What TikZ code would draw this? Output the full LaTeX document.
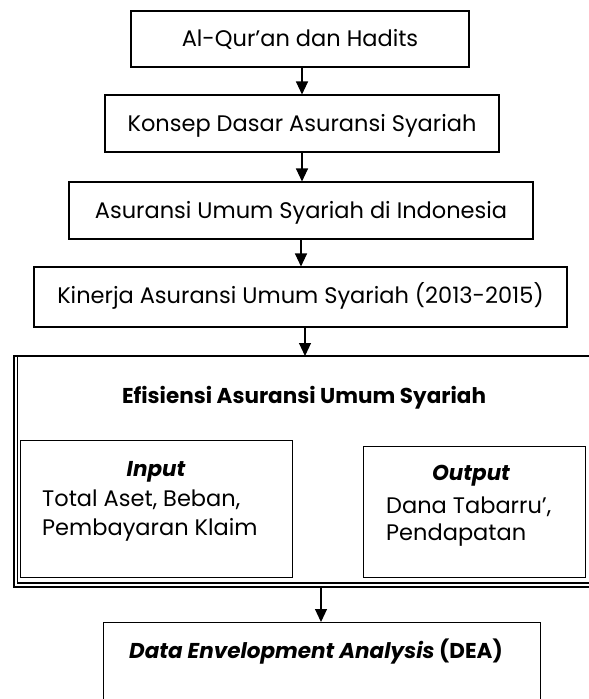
\documentclass[tikz,border=0pt]{standalone}
\usepackage{fontspec}
\setmainfont{Poppins}
\usetikzlibrary{arrows.meta}
\begin{document}
\begin{tikzpicture}[x=1pt,y=-1pt,
  box/.style={draw, line width=1.1pt, inner sep=0pt},
  txt/.style={font=\fontsize{22.5}{26}\selectfont, inner sep=0pt},
  btxt/.style={font=\fontsize{21.5}{26}\selectfont\bfseries, inner sep=0pt},
  arr/.style={line width=1.1pt, -{Triangle[length=13pt,width=12pt]}}]
\clip (0,0) rectangle (589,699);
% top chain
\node[box, minimum width=338pt, minimum height=56pt] (b1) at (300,39) {};
\node[txt, anchor=base] (t1) at (300,46) {Al-Qur’an dan Hadits};
\node[box, minimum width=394pt, minimum height=57pt] (b2) at (302,123.5) {};
\node[txt, anchor=base] (t2) at (302,131) {Konsep Dasar Asuransi Syariah};
\node[box, minimum width=464pt, minimum height=57pt] (b3) at (301,210.5) {};
\node[txt, anchor=base] (t3) at (301,218) {Asuransi Umum Syariah di Indonesia};
\node[box, minimum width=533pt, minimum height=60pt] (b4) at (300.5,297) {};
\node[txt, anchor=base] (t4) at (300.5,303) {Kinerja Asuransi Umum Syariah (2013-2015)};
% outer frame
\coordinate (ot) at (305,356);
\coordinate (ob) at (321,587);
\draw[line width=1.1pt] (14,356) rectangle (610,587);
\draw[line width=1.1pt] (17.5,356) -- (17.5,583) -- (610,583);
\node[btxt, anchor=base] (teff) at (304,403) {Efisiensi Asuransi Umum Syariah};
% input
\node[box, anchor=north west, minimum width=272pt, minimum height=137pt] (inb) at (20,440) {};
\node[btxt, anchor=base] (tin) at (156,476) {\itshape Input};
\node[txt, anchor=base west] (tin1) at (42,506) {Total Aset, Beban,};
\node[txt, anchor=base west] (tin2) at (42,535) {Pembayaran Klaim};
% output
\node[box, anchor=north west, minimum width=222pt, minimum height=131pt] (outb) at (363,446) {};
\node[btxt, anchor=base] (tout) at (471,480) {\itshape Output};
\node[txt, anchor=base west] (tout1) at (386,513) {Dana Tabarru’,};
\node[txt, anchor=base west] (tout2) at (386,540) {Pendapatan};
% DEA
\node[box, anchor=north west, minimum width=437pt, minimum height=120pt] (dea) at (103,622) {};
\node[btxt, anchor=base] (tdea) at (316,658) {\textit{Data Envelopment Analysis} (DEA)};
% arrows
\draw[arr] (b1.south -| b2.north) -- (b2.north);
\draw[arr] (b2.south) -- (b3.north -| b2.south);
\draw[arr] (b3.south) -- (b4.north -| b3.south);
\draw[arr] (b4.south -| ot) -- (ot);
\draw[arr] (ob) -- (dea.north -| ob);
\end{tikzpicture}
\end{document}
